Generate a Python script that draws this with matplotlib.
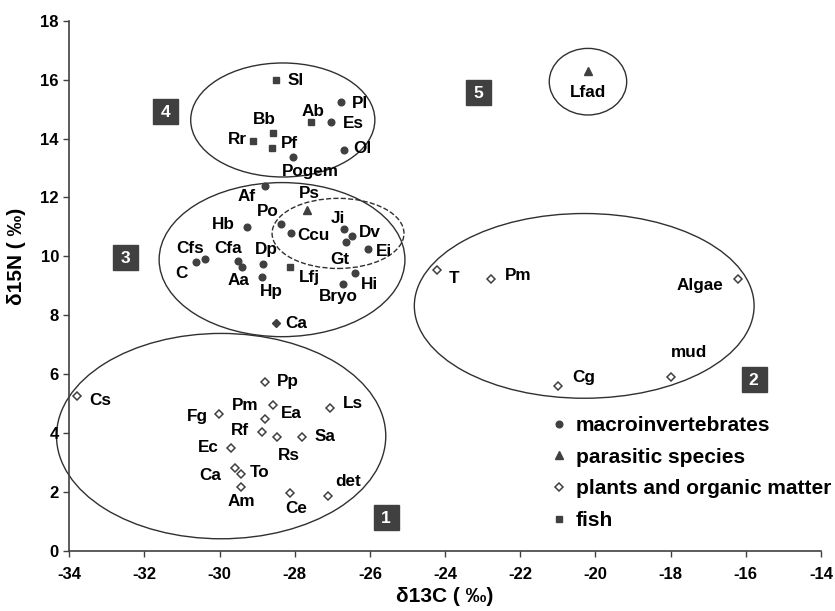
import matplotlib
matplotlib.use("Agg")
import matplotlib.pyplot as plt
from matplotlib.patches import Ellipse

plt.rcParams['font.family'] = ['Liberation Sans', 'DejaVu Sans']
plt.rcParams['font.weight'] = 'bold'
plt.rcParams['axes.unicode_minus'] = False

# ---------------- data ----------------
macro_names = ["Pl", "Es", "Ol", "Pogem", "Af", "Po", "Hb", "Ccu", "Ji", "Dv", "Gt", "Ei",
               "Cfs", "C", "Cfa", "Aa", "Dp", "Hp", "Hi", "Bryo"]
macro_x = [-26.78, -27.04, -26.69, -28.05, -28.80, -28.37, -29.26, -28.10, -26.69, -26.49, -26.64, -26.05,
           -30.38, -30.64, -29.50, -29.40, -28.84, -28.86, -26.40, -26.71]
macro_y = [15.25, 14.57, 13.61, 13.38, 12.39, 11.10, 11.01, 10.78, 10.92, 10.70, 10.50, 10.25,
           9.92, 9.81, 9.85, 9.64, 9.73, 9.31, 9.43, 9.06]

para_names = ["Ps", "Lfad"]
para_x = [-27.67, -20.21]
para_y = [11.58, 16.30]

plant_names = ["Cs", "Pp", "Pm", "Ea", "Fg", "Ls", "Rf", "Rs", "Sa", "Ec", "Ca", "To", "Am", "Ce", "det",
               "T", "Pm", "Algae", "Cg", "mud"]
plant_x = [-33.80, -28.78, -28.57, -28.78, -30.02, -27.07, -28.87, -28.47, -27.82, -29.70, -29.59, -29.43,
           -29.43, -28.14, -27.11, -24.23, -22.77, -16.22, -21.00, -18.00]
plant_y = [5.27, 5.75, 4.97, 4.48, 4.64, 4.87, 4.05, 3.88, 3.88, 3.51, 2.83, 2.61,
           2.18, 1.98, 1.88, 9.54, 9.22, 9.22, 5.61, 5.92]

fish_names = ["Sl", "Ab", "Bb", "Rr", "Pf", "Lfj"]
fish_x = [-28.51, -27.57, -28.59, -29.12, -28.61, -28.13]
fish_y = [15.99, 14.57, 14.20, 13.93, 13.69, 9.65]

other_names = ["Ca"]
other_x = [-28.51]
other_y = [7.73]

series_labels = ["macroinvertebrates", "parasitic species", "plants and organic matter", "fish"]
group_numbers = ["1", "2", "3", "4", "5"]

x_ticks = list(range(-34, -13, 2))
y_ticks = list(range(0, 19, 2))

# ---------------- style / layout ----------------
GREY = '#404040'
# label offsets in pixels (dx right, dy up)
macro_off = [(19, -2), (22, -2), (18, 2), (17, -15), (-18, -11), (-13, 12), (-24, 2), (22, -2), (-6, 11),
             (18, 3), (-6, -18), (16, -2), (-15, 10), (-14, -12), (-10, 12), (-4, -14), (3, 15),
             (9, -15), (15, -11), (-5, -12)]
para_off = [(2, 16), (0, -22)]
plant_off = [(23, -5), (22, 0), (-28, -1), (26, 6), (-22, -2), (23, 4), (-22, 1), (12, -19), (23, 0),
             (-23, 0), (-25, -8), (18, 2), (0, -15), (7, -16), (20, 14),
             (17, -9), (27, 4), (-38, -6), (26, 8), (18, 24)]
fish_off = [(20, -1), (2, 10), (-8, 13), (-15, 1), (18, 4), (20, -11)]
other_off = [(21, 0)]

ellipses = [((-29.96, 3.90), 8.76, 6.97, '-'),
            ((-20.30, 8.32), 9.04, 6.27, '-'),
            ((-28.34, 9.89), 6.54, 5.23, '-'),
            ((-26.85, 10.78), 3.51, 2.38, '--'),
            ((-28.32, 14.63), 4.90, 3.87, '-'),
            ((-20.20, 15.93), 2.06, 2.26, '-')]
box_pos = [(-25.58, 1.15), (-15.79, 5.84), (-32.51, 9.99), (-31.45, 14.94), (-23.13, 15.58)]

fig = plt.figure(figsize=(8.35, 6.11), dpi=100)
ax = fig.add_axes([69.3 / 835, 1 - 551 / 611, 751.7 / 835, 530.3 / 611])

h1, = ax.plot(macro_x, macro_y, 'o', color=GREY, ms=4.8, ls='none', label=series_labels[0])
h2, = ax.plot(para_x, para_y, '^', color=GREY, ms=5.2, ls='none', label=series_labels[1])
h3, = ax.plot(plant_x, plant_y, 'D', mfc='white', mec=GREY, mew=1.1, ms=4.0, ls='none',
              label=series_labels[2])
h4, = ax.plot(fish_x, fish_y, 's', color=GREY, ms=4.6, ls='none', label=series_labels[3])
ax.plot(other_x, other_y, 'D', color=GREY, ms=4.3, ls='none', label='_nolegend_')

for names, xs, ys, offs in [(macro_names, macro_x, macro_y, macro_off),
                            (para_names, para_x, para_y, para_off),
                            (plant_names, plant_x, plant_y, plant_off),
                            (fish_names, fish_x, fish_y, fish_off),
                            (other_names, other_x, other_y, other_off)]:
    for n, x, y, (dx, dy) in zip(names, xs, ys, offs):
        ax.annotate(n, (x, y), xytext=(dx, dy), textcoords='offset pixels',
                    ha='center', va='center', fontsize=12.3, fontweight='bold', color='black')

for (c, w, h, ls) in ellipses:
    ax.add_patch(Ellipse(c, w, h, fill=False, ec='#303030', lw=1.0, ls=ls, clip_on=False))

for num, (bx, by) in zip(group_numbers, box_pos):
    ax.plot([bx], [by], 's', color=GREY, ms=18, clip_on=False)
    ax.text(bx, by, num, color='white', ha='center', va='center_baseline',
            fontsize=12.5, fontweight='bold')

ax.set_xlim(-34, -14)
ax.set_ylim(0, 18)
ax.set_xticks(x_ticks)
ax.set_yticks(y_ticks)
for s in ['top', 'right']:
    ax.spines[s].set_visible(False)
for s in ['left', 'bottom']:
    ax.spines[s].set_color(GREY)
    ax.spines[s].set_linewidth(1.2)
ax.tick_params(axis='both', direction='out', length=4.5, width=1.0, color=GREY,
               labelsize=12, labelcolor='black')
ax.tick_params(axis='x', pad=7)
ax.tick_params(axis='y', pad=3)
for t in ax.get_xticklabels() + ax.get_yticklabels():
    t.set_fontweight('bold')

ax.set_xlabel('δ13C ( ‰)', fontsize=15, fontweight='bold')
ax.set_ylabel('δ15N ( ‰)', fontsize=15, fontweight='bold')
ax.xaxis.set_label_coords(0.5, -0.068)
ax.yaxis.set_label_coords(-0.058, 0.556)

leg = ax.legend(handles=[h1, h2, h3, h4], loc='upper left',
                bbox_to_anchor=(553 / 835, 1 - 416 / 611), bbox_transform=fig.transFigure,
                frameon=False, fontsize=15, handlelength=0.6, handletextpad=0.5,
                labelspacing=0.61, borderpad=0, borderaxespad=0)
for t in leg.get_texts():
    t.set_fontweight('bold')

fig.savefig('out.png', dpi=100)
